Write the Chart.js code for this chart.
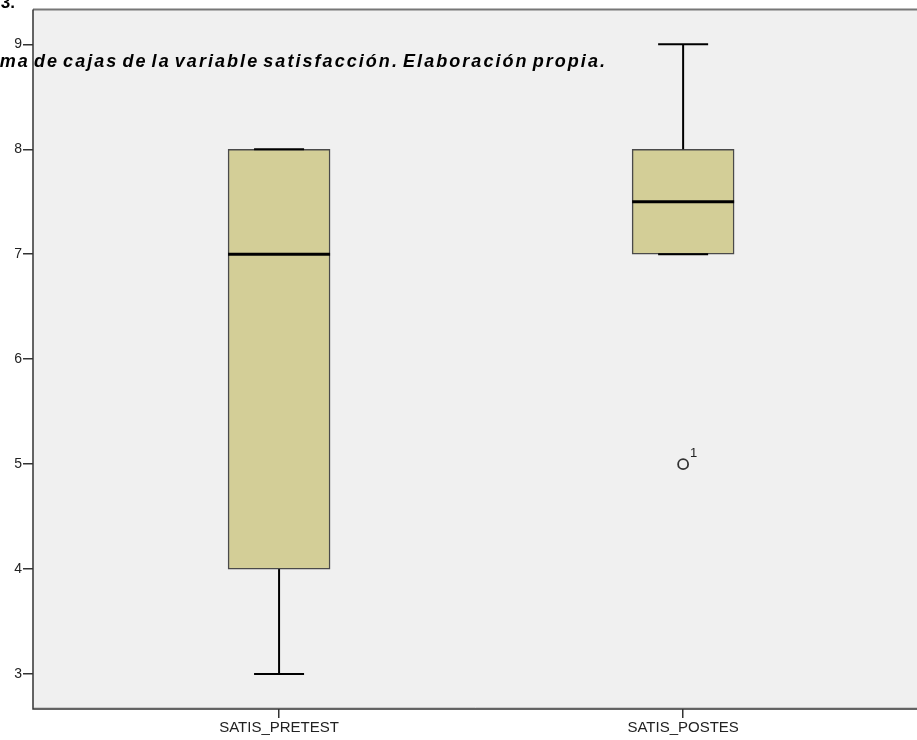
<!DOCTYPE html>
<html>
<head>
<meta charset="utf-8">
<script src="https://cdn.jsdelivr.net/npm/chart.js@4"></script>
<style>
html,body{margin:0;padding:0;background:#fff;overflow:hidden;}
#wrap{position:relative;width:917px;height:740px;}
</style>
</head>
<body>
<div id="wrap"><canvas id="c" width="917" height="740"></canvas></div>
<script>
const categories = ["SATIS_PRETEST", "SATIS_POSTES"];
const whiskerLow = [3, 7];
const q1 = [4, 7];
const median = [7, 7.5];
const q3 = [8, 8];
const whiskerHigh = [8, 9];
const outlierCategory = [1];
const outlierValue = [5];
const outlierLabel = ["1"];
const yTicks = [3, 4, 5, 6, 7, 8, 9];
const titleText = "Diagrama de cajas de la variable satisfacción. Elaboración propia.";
const headText = "Figura 3.";

const boxData = categories.map((c, i) => ({x: i, y: [q1[i], q3[i]]}));
const outData = outlierValue.map((v, i) => ({x: outlierCategory[i], y: v}));

const framePlugin = {
  id: 'frame',
  beforeDraw(chart) {
    const {ctx, chartArea: a} = chart;
    ctx.save();
    ctx.fillStyle = '#f0f0f0';
    ctx.fillRect(a.left, a.top, chart.width - a.left, a.bottom - a.top);
    ctx.restore();
  },
  afterDatasetsDraw(chart) {
    const {ctx} = chart;
    const xs = chart.scales.x, ys = chart.scales.y;
    ctx.save();
    ctx.strokeStyle = '#000';
    ctx.lineCap = 'butt';
    categories.forEach((c, i) => {
      const cx = xs.getPixelForValue(i);
      const capHalf = 25;
      ctx.lineWidth = 2;
      ctx.beginPath();
      ctx.moveTo(cx, ys.getPixelForValue(q3[i]));
      ctx.lineTo(cx, ys.getPixelForValue(whiskerHigh[i]));
      ctx.stroke();
      ctx.beginPath();
      ctx.moveTo(cx - capHalf, ys.getPixelForValue(whiskerHigh[i]));
      ctx.lineTo(cx + capHalf, ys.getPixelForValue(whiskerHigh[i]));
      ctx.stroke();
      ctx.beginPath();
      ctx.moveTo(cx, ys.getPixelForValue(q1[i]));
      ctx.lineTo(cx, ys.getPixelForValue(whiskerLow[i]));
      ctx.stroke();
      ctx.beginPath();
      ctx.moveTo(cx - capHalf, ys.getPixelForValue(whiskerLow[i]));
      ctx.lineTo(cx + capHalf, ys.getPixelForValue(whiskerLow[i]));
      ctx.stroke();
      ctx.lineWidth = 3;
      ctx.beginPath();
      ctx.moveTo(cx - 51, ys.getPixelForValue(median[i]));
      ctx.lineTo(cx + 51, ys.getPixelForValue(median[i]));
      ctx.stroke();
    });
    ctx.fillStyle = '#222';
    ctx.font = '13px "Liberation Sans", Arial, sans-serif';
    ctx.textAlign = 'left';
    ctx.textBaseline = 'middle';
    outlierValue.forEach((v, i) => {
      ctx.fillText(outlierLabel[i], xs.getPixelForValue(outlierCategory[i]) + 7, ys.getPixelForValue(v) - 11);
    });
    ctx.restore();
  },
  afterDraw(chart) {
    const {ctx, chartArea: a} = chart;
    ctx.save();
    ctx.strokeStyle = '#777';
    ctx.lineWidth = 2;
    ctx.beginPath();
    ctx.moveTo(a.left, a.top);
    ctx.lineTo(chart.width, a.top);
    ctx.stroke();
    ctx.strokeStyle = '#333';
    ctx.lineWidth = 1.5;
    ctx.beginPath();
    ctx.moveTo(a.left, a.top);
    ctx.lineTo(a.left, a.bottom);
    ctx.lineTo(chart.width, a.bottom);
    ctx.stroke();
    ctx.strokeStyle = '#ccc';
    ctx.lineWidth = 1;
    ctx.beginPath();
    ctx.moveTo(a.left + 1, a.bottom - 1.5);
    ctx.lineTo(chart.width, a.bottom - 1.5);
    ctx.stroke();
    ctx.fillStyle = '#000';
    ctx.font = 'italic bold 18px "Liberation Sans", Arial, sans-serif';
    ctx.textAlign = 'right';
    ctx.textBaseline = 'alphabetic';
    try { ctx.letterSpacing = '2.05px'; ctx.wordSpacing = '-3px'; } catch (e) {}
    ctx.fillText(titleText, 607, 67);
    try { ctx.letterSpacing = '0px'; ctx.wordSpacing = '0px'; } catch (e) {}
    ctx.font = 'bold 17px "Liberation Sans", Arial, sans-serif';
    ctx.fillText(headText, 15, 8);
    ctx.restore();
  }
};

new Chart(document.getElementById('c'), {
  type: 'bar',
  data: {
    datasets: [
      {
        type: 'bar',
        data: boxData,
        backgroundColor: '#d3ce97',
        borderColor: '#4a4a4a',
        borderWidth: 1.5,
        borderSkipped: false,
        barThickness: 102,
        order: 2
      },
      {
        type: 'scatter',
        data: outData,
        pointStyle: 'circle',
        pointRadius: 5,
        pointBorderWidth: 1.8,
        pointBackgroundColor: 'rgba(0,0,0,0)',
        pointBorderColor: '#333',
        order: 1
      }
    ]
  },
  options: {
    responsive: false,
    animation: false,
    devicePixelRatio: 1,
    layout: {padding: {top: 8, right: 0, left: 0, bottom: 0}},
    plugins: {legend: {display: false}, tooltip: {enabled: false}, title: {display: false}},
    scales: {
      x: {
        type: 'linear',
        offset: false,
        min: -0.609,
        max: 1.562,
        afterBuildTicks: s => { s.ticks = categories.map((c, i) => ({value: i})); },
        afterFit: s => { s.height = 31; },
        border: {display: false},
        grid: {offset: false, drawOnChartArea: false, tickLength: 9, tickColor: '#333', lineWidth: 1.5},
        ticks: {
          callback: (v) => categories[v] ?? '',
          color: '#222',
          font: {family: '"Liberation Sans", Arial, sans-serif', size: 15},
          padding: 1,
          maxRotation: 0,
          autoSkip: false
        }
      },
      y: {
        type: 'linear',
        min: 2.667,
        max: 9.333,
        afterBuildTicks: s => { s.ticks = yTicks.map(v => ({value: v})); },
        afterFit: s => { s.width = 33; },
        border: {display: false},
        grid: {drawOnChartArea: false, tickLength: 10, tickColor: '#333', lineWidth: 1.5},
        ticks: {
          color: '#222',
          font: {family: '"Liberation Sans", Arial, sans-serif', size: 14},
          padding: 1
        }
      }
    }
  },
  plugins: [framePlugin]
});
</script>
</body>
</html>
